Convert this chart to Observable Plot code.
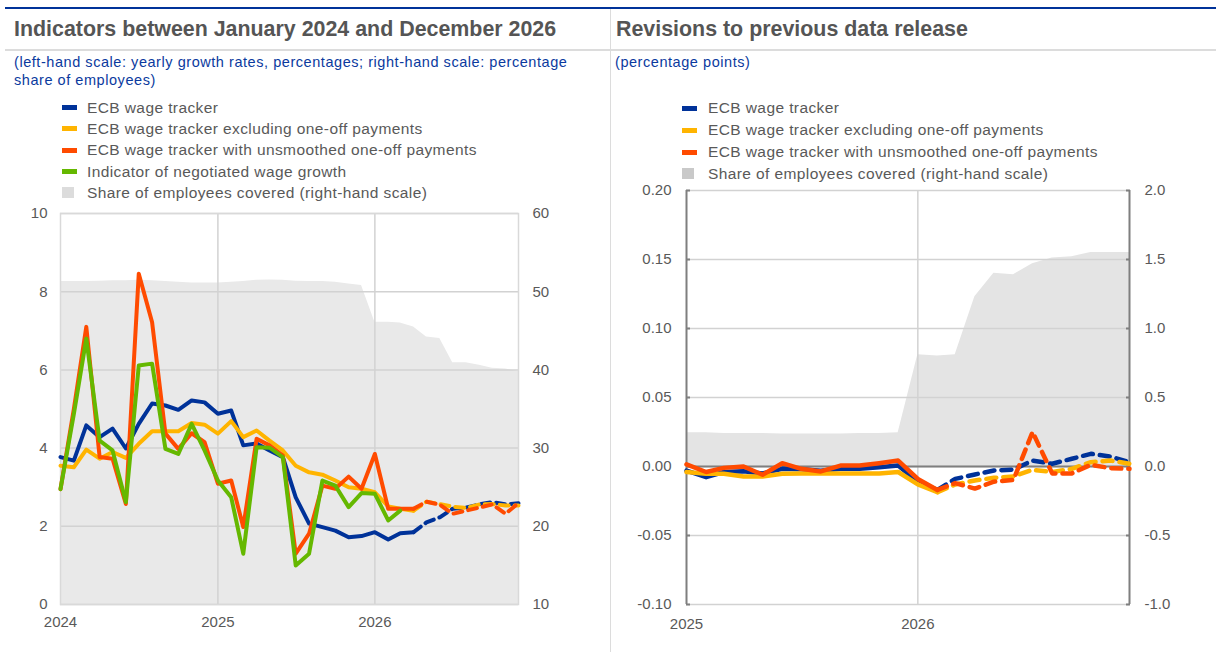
<!DOCTYPE html>
<html><head><meta charset="utf-8">
<script src="https://cdn.jsdelivr.net/npm/d3@7"></script>
<script src="https://cdn.jsdelivr.net/npm/@observablehq/plot@0.6"></script>
<style>
body{margin:0;width:1216px;height:652px;position:relative;background:#fff;font-family:Arial,"Liberation Sans",sans-serif;overflow:hidden}
.abs{position:absolute}
.title{font-weight:bold;font-size:21.4px;line-height:21.4px;color:#555555;white-space:nowrap}
.sub{font-size:14.5px;line-height:18.6px;letter-spacing:0.55px;color:#0b3a9e;white-space:nowrap}
.leg{font-size:15.5px;letter-spacing:0.4px;color:#595959;white-space:nowrap;z-index:5}
.leg div{position:relative;padding-left:0}
.sw{position:absolute;display:block}
svg{overflow:visible}
</style></head><body>
<div class="abs" style="left:5px;top:7px;width:1211px;height:2px;background:#003299"></div>
<div class="abs" style="left:5px;top:49px;width:1211px;height:2px;background:#dcdcdc"></div>
<div class="abs" style="left:610px;top:9px;width:1px;height:643px;background:#dcdcdc"></div>
<div class="abs title" style="left:14px;top:18.5px">Indicators between January 2024 and December 2026</div>
<div class="abs title" style="left:616px;top:18.5px">Revisions to previous data release</div>
<div class="abs sub" style="left:14px;top:52.5px">(left-hand scale: yearly growth rates, percentages; right-hand scale: percentage<br>share of employees)</div>
<div class="abs sub" style="left:615px;top:52.5px">(percentage points)</div>
<div id="left" class="abs" style="left:0;top:200px"></div>
<div id="right" class="abs" style="left:611px;top:180px"></div>
<div id="legL" class="abs leg" style="left:62px;top:96.6px"></div>
<div id="legR" class="abs leg" style="left:682px;top:97.3px"></div>
<script>
// ---------- Left panel data (monthly, Jan 2024 - Dec 2026) ----------
const leftStart = new Date(Date.UTC(2024, 0, 1));
const leftEnd = new Date(Date.UTC(2027, 0, 1));
const leftYears = [2024, 2025, 2026];
const leftTicks = [0, 2, 4, 6, 8, 10];
const wageTracker = [3.77,3.68,4.58,4.28,4.5,3.99,4.62,5.14,5.09,4.98,5.22,5.17,4.88,4.96,4.07,4.12,3.94,3.77,2.74,2.07,1.98,1.89,1.72,1.75,1.85,1.66,1.82,1.85,2.1,2.23,2.45,2.48,2.56,2.62,2.56,2.59];
const wageTrackerExOneOff = [3.55,3.51,3.96,3.73,3.9,3.75,4.11,4.43,4.43,4.43,4.64,4.6,4.37,4.69,4.28,4.45,4.19,3.94,3.55,3.38,3.32,3.17,3.0,2.96,2.87,2.51,2.45,2.4,2.63,2.57,2.5,2.47,2.56,2.57,2.53,2.53];
const wageTrackerUnsmoothed = [2.95,5.0,7.1,3.77,3.73,2.57,8.46,7.22,4.37,3.98,4.38,4.15,3.09,3.17,1.98,4.24,4.07,3.81,1.3,1.81,3.04,2.96,3.27,2.96,3.85,2.45,2.45,2.45,2.63,2.55,2.32,2.4,2.48,2.56,2.32,2.6];
const negotiatedWages = [2.95,4.87,6.8,4.19,3.94,2.62,6.11,6.16,3.98,3.85,4.62,3.94,3.17,2.74,1.3,4.02,4.01,3.77,1.0,1.3,3.17,3.04,2.49,2.85,2.83,2.15,2.4];
const shareCovered = [51.3,51.3,51.3,51.35,51.4,51.4,51.45,51.4,51.3,51.2,51.1,51.1,51.1,51.2,51.3,51.45,51.5,51.45,51.35,51.3,51.3,51.2,51.0,50.8,46.1,46.1,46.0,45.5,44.2,44.0,40.9,40.9,40.6,40.2,40.1,39.8];
const leftSolidEnd = 27; // last month of realised data (index)

// ---------- Right panel data (monthly, Jan 2025 - Dec 2026) ----------
const rightStart = new Date(Date.UTC(2025, 0, 1));
const rightEnd = new Date(Date.UTC(2027, 0, 1));
const rightYears = [2025, 2026];
const rightTicks = [-0.10, -0.05, 0, 0.05, 0.10, 0.15, 0.20];
const revTracker = [-0.003,-0.0077,-0.004,-0.0035,-0.005,-0.0017,-0.002,-0.003,-0.0017,-0.0017,-0.0005,0.0007,-0.011,-0.017,-0.009,-0.0058,-0.0029,-0.0022,0.0043,0.002,0.0056,0.0092,0.0072,0.0031];
const revExOneOff = [-0.004,-0.0053,-0.0053,-0.0072,-0.0072,-0.0053,-0.005,-0.005,-0.005,-0.005,-0.005,-0.004,-0.013,-0.0186,-0.013,-0.0101,-0.0082,-0.0072,-0.0024,-0.004,-0.0017,0.0031,0.0043,0.002];
const revUnsmoothed = [0.0015,-0.004,-0.001,0.0,-0.006,0.0024,-0.0017,-0.0036,0.0007,0.0007,0.0024,0.0043,-0.009,-0.017,-0.012,-0.016,-0.011,-0.0097,0.025,-0.005,-0.005,0.0012,-0.0012,-0.0017];
const revShareCovered = [0.245,0.245,0.24,0.24,0.24,0.235,0.235,0.235,0.235,0.24,0.24,0.245,0.81,0.80,0.81,1.23,1.40,1.39,1.47,1.51,1.52,1.55,1.55,1.55];
const rightSolidEnd = 13;

const colors = {blue: "#003299", yellow: "#ffb400", orange: "#ff4b00", green: "#65b800"};
const fontFamily = "Arial, 'Liberation Sans', sans-serif";

// ---------- Left chart ----------
const leftMonths = d3.utcMonth.range(leftStart, leftEnd);
const rowsL = leftMonths.map((d, i) => ({
  date: d, blue: wageTracker[i], yellow: wageTrackerExOneOff[i], orange: wageTrackerUnsmoothed[i],
  green: negotiatedWages[i] ?? null, share: shareCovered[i]
}));
const yearDatesL = leftYears.map(y => new Date(Date.UTC(y, 0, 1)));
const solidL = rowsL.slice(0, leftSolidEnd + 1);
const dashL = rowsL.slice(leftSolidEnd);
const lw = 4;
function seriesMarks(solid, dash, key, color, w, dashArr) {
  return [
    Plot.lineY(solid, {x: "date", y: key, stroke: color, strokeWidth: w, strokeLinejoin: "round"}),
    dash ? Plot.lineY(dash, {x: "date", y: key, stroke: color, strokeWidth: w, strokeDasharray: dashArr, strokeLinejoin: "round"}) : null
  ];
}
const leftPlot = Plot.plot({
  width: 610, height: 440,
  marginLeft: 60, marginRight: 92, marginTop: 13, marginBottom: 36,
  style: {fontFamily, fontSize: "15px", color: "#595959", background: "none", overflow: "visible"},
  x: {type: "utc", domain: [leftMonths[0], leftMonths[leftMonths.length - 1]]},
  y: {domain: [0, 10]},
  marks: [
    Plot.area(rowsL, {x1: "date", y1: 0, y2: d => (d.share - 10) / 5, fill: "#e9e9e9"}),
    Plot.gridY({ticks: leftTicks, stroke: "#d2d2d2", strokeOpacity: 1, strokeWidth: 1.5}),
    Plot.gridX({ticks: yearDatesL.slice(1), stroke: "#d2d2d2", strokeOpacity: 1, strokeWidth: 1.5}),
    Plot.frame({stroke: "#d9d9d9", strokeWidth: 1.5}),
    Plot.axisY({anchor: "left", ticks: leftTicks, tickSize: 0, tickPadding: 13, label: null}),
    Plot.axisY({anchor: "right", ticks: leftTicks, tickFormat: d => String(d * 5 + 10), tickSize: 0, tickPadding: 14, label: null}),
    Plot.axisX({ticks: yearDatesL, tickFormat: d3.utcFormat("%Y"), tickSize: 0, tickPadding: 12, label: null}),
    ...seriesMarks(solidL, dashL, "blue", colors.blue, lw, "9,6"),
    ...seriesMarks(solidL, dashL, "yellow", colors.yellow, lw, "9,6"),
    ...seriesMarks(solidL, dashL, "orange", colors.orange, lw, "9,6"),
    Plot.lineY(rowsL.filter(d => d.green != null), {x: "date", y: "green", stroke: colors.green, strokeWidth: lw, strokeLinejoin: "round"})
  ]
});
document.getElementById("left").appendChild(leftPlot);

// ---------- Right chart ----------
const rightMonths = d3.utcMonth.range(rightStart, rightEnd);
const rowsR = rightMonths.map((d, i) => ({
  date: d, blue: revTracker[i], yellow: revExOneOff[i], orange: revUnsmoothed[i], share: revShareCovered[i]
}));
const yearDatesR = rightYears.map(y => new Date(Date.UTC(y, 0, 1)));
const solidR = rowsR.slice(0, rightSolidEnd + 1);
const dashR = rowsR.slice(rightSolidEnd);
const axisGray = "#7f7f7f";
const rightPlot = Plot.plot({
  width: 605, height: 460,
  marginLeft: 75, marginRight: 87, marginTop: 10, marginBottom: 36,
  style: {fontFamily, fontSize: "15px", color: "#595959", background: "none", overflow: "visible"},
  x: {type: "utc", domain: [rightMonths[0], rightMonths[rightMonths.length - 1]]},
  y: {domain: [-0.10, 0.20]},
  marks: [
    Plot.area(rowsR, {x1: "date", y1: 0, y2: d => d.share / 10, fill: "#e4e4e4"}),
    Plot.gridY({ticks: rightTicks, stroke: "#d2d2d2", strokeOpacity: 1, strokeWidth: 1.5}),
    Plot.gridX({ticks: yearDatesR.slice(1), stroke: "#d2d2d2", strokeOpacity: 1, strokeWidth: 1.5}),
    Plot.ruleY([0], {stroke: axisGray, strokeWidth: 2}),
    Plot.ruleX([rightMonths[0]], {stroke: axisGray, strokeWidth: 2}),
    Plot.ruleX([rightMonths[rightMonths.length - 1]], {stroke: axisGray, strokeWidth: 2}),
    Plot.axisY({anchor: "left", ticks: rightTicks, tickSize: 4, dx: 4, fill: "none", stroke: axisGray, strokeWidth: 2}),
    Plot.axisY({anchor: "right", ticks: rightTicks, tickSize: 4, dx: -4, fill: "none", stroke: axisGray, strokeWidth: 2}),
    Plot.axisY({anchor: "left", ticks: rightTicks, tickFormat: d => d.toFixed(2), tickSize: 0, tickPadding: 15, label: null}),
    Plot.axisY({anchor: "right", ticks: rightTicks, tickFormat: d => (d * 10).toFixed(1), tickSize: 0, tickPadding: 15, label: null}),
    Plot.axisX({ticks: yearDatesR, tickFormat: d3.utcFormat("%Y"), tickSize: 0, tickPadding: 14, label: null}),
    ...seriesMarks(solidR, dashR, "blue", colors.blue, 4.5, "10,7"),
    ...seriesMarks(solidR, dashR, "yellow", colors.yellow, 4.5, "10,7"),
    ...seriesMarks(solidR, dashR, "orange", colors.orange, 4.5, "10,7")
  ]
});
document.getElementById("right").appendChild(rightPlot);

// ---------- Legends ----------
const legendLeft = [
  {label: "ECB wage tracker", color: colors.blue, kind: "line"},
  {label: "ECB wage tracker excluding one-off payments", color: colors.yellow, kind: "line"},
  {label: "ECB wage tracker with unsmoothed one-off payments", color: colors.orange, kind: "line"},
  {label: "Indicator of negotiated wage growth", color: colors.green, kind: "line"},
  {label: "Share of employees covered (right-hand scale)", color: "#dcdcdc", kind: "box"}
];
const legendRight = [
  {label: "ECB wage tracker", color: colors.blue, kind: "line"},
  {label: "ECB wage tracker excluding one-off payments", color: colors.yellow, kind: "line"},
  {label: "ECB wage tracker with unsmoothed one-off payments", color: colors.orange, kind: "line"},
  {label: "Share of employees covered (right-hand scale)", color: "#c9c9c9", kind: "box"}
];
function buildLegend(el, items, rowH, textX) {
  items.forEach(it => {
    const row = document.createElement("div");
    row.style.height = rowH + "px";
    row.style.lineHeight = rowH + "px";
    row.style.paddingLeft = textX + "px";
    row.textContent = it.label;
    const sw = document.createElement("span");
    sw.className = "sw";
    sw.style.background = it.color;
    if (it.kind === "line") {
      sw.style.left = "0px"; sw.style.width = "15px"; sw.style.height = "5px";
      sw.style.top = (rowH / 2 - 2.5) + "px";
    } else {
      sw.style.left = "0px"; sw.style.width = "12px"; sw.style.height = "11px";
      sw.style.top = (rowH / 2 - 5.5) + "px";
    }
    row.appendChild(sw);
    el.appendChild(row);
  });
}
buildLegend(document.getElementById("legL"), legendLeft, 21.4, 25);
buildLegend(document.getElementById("legR"), legendRight, 21.9, 26);
</script>
</body></html>
